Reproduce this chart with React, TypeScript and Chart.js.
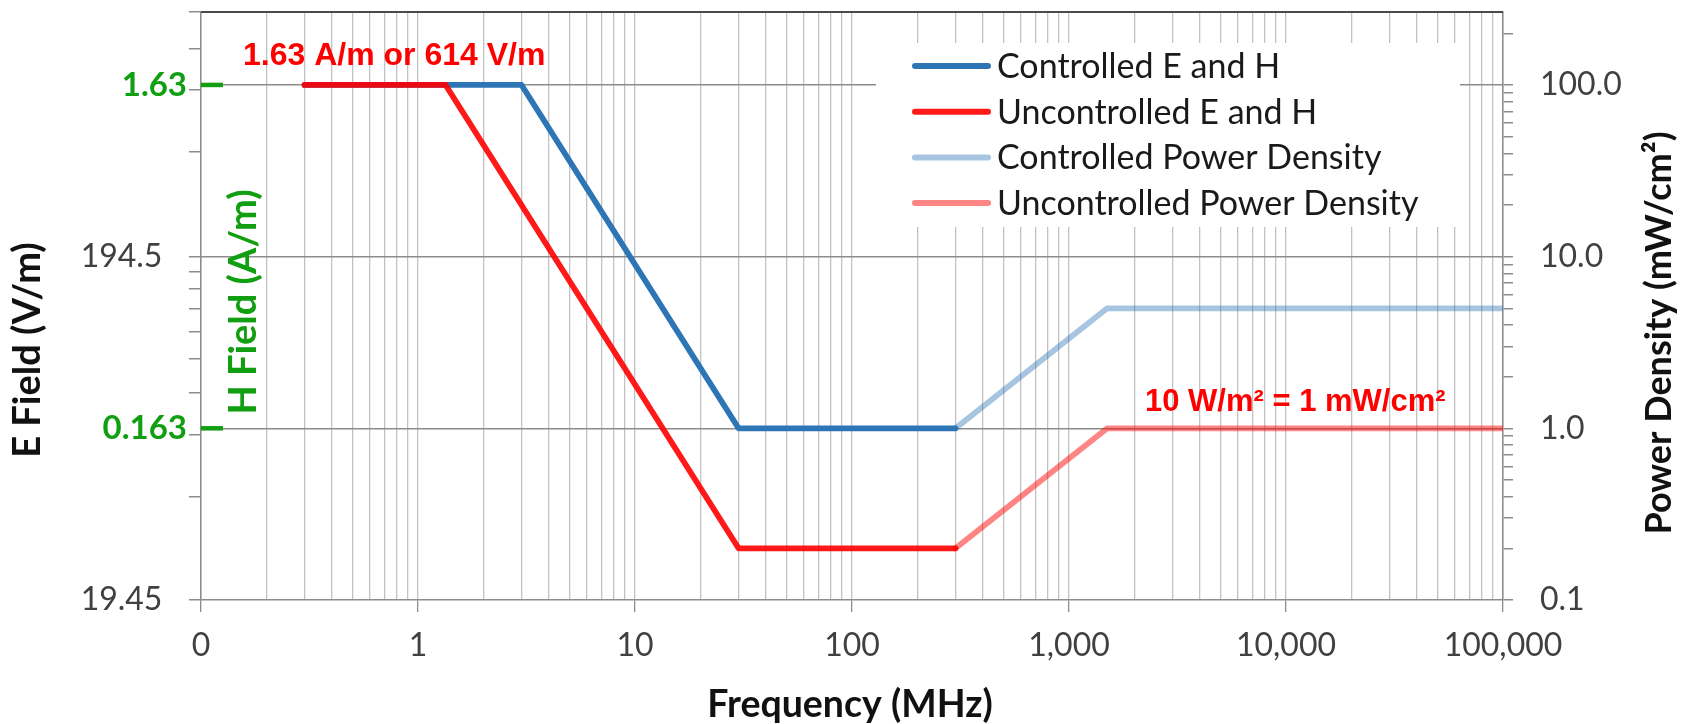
import React, { useEffect, useRef } from 'react';
import { Chart, registerables } from 'chart.js';

Chart.register(...registerables);

// Exposure limit breakpoints: frequency (MHz) and equivalent power density (mW/cm²)
const CONTROLLED_EH_FREQ = [0.3, 3, 30, 300];
const CONTROLLED_EH_PD = [100, 100, 1, 1];
const UNCONTROLLED_EH_FREQ = [0.3, 1.34, 30, 300];
const UNCONTROLLED_EH_PD = [100, 100, 0.2, 0.2];
const CONTROLLED_PD_FREQ = [300, 1500, 100000];
const CONTROLLED_PD = [1, 5, 5];
const UNCONTROLLED_PD_FREQ = [300, 1500, 100000];
const UNCONTROLLED_PD = [0.2, 1, 1];

const SERIES_LABELS = [
  'Controlled E and H',
  'Uncontrolled E and H',
  'Controlled Power Density',
  'Uncontrolled Power Density',
];

// Axis ticks
const FREQ_DECADES = [0.1, 1, 10, 100, 1000, 10000, 100000];
const FREQ_LABELS = ['0', '1', '10', '100', '1,000', '10,000', '100,000'];
const PD_DECADES = [0.1, 1, 10, 100];
const PD_LABELS = ['0.1', '1.0', '10.0', '100.0'];
const E_TICK_VALUES = [0.1, 10];
const E_TICK_LABELS = ['19.45', '194.5'];
const H_TICK_VALUES = [1, 100];
const H_TICK_LABELS = ['0.163', '1.63'];
const LEFT_MINOR_TICKS = [0.1, 0.398, 0.914, 1.61, 2.53, 3.64, 4.95, 6.48, 8.13, 10, 40.6, 93.3, 162, 266];
const PD_MIN = 0.1;
const PD_MAX = 266;
const FREQ_MIN = 0.1;
const FREQ_MAX = 100000;

const BLUE = '#2e75b6';
const RED = 'rgba(255,0,0,0.9)';
const LIGHT_BLUE = 'rgba(46,117,182,0.42)';
const LIGHT_RED = 'rgba(255,0,0,0.48)';
const GREEN = '#119e11';
const AXIS_GRAY = '#8c8c8c';
const GRID_GRAY = '#c2c2c2';
const TEXT_GRAY = '#404040';
const CLEAR = 'rgba(0,0,0,0)';

const pairs = (xs: number[], ys: number[]) => xs.map((x, i) => ({ x, y: ys[i] }));

const isDecade = (v: number) => Math.abs(Math.log10(v) - Math.round(Math.log10(v))) < 1e-9;

const sameValue = (a: number, b: number) => Math.abs(a - b) / Math.abs(b) < 1e-6;

const indexOfValue = (values: number[], v: number) => values.findIndex((x) => sameValue(v, x));

const labelFor = (values: number[], labels: string[], v: number) => {
  const i = indexOfValue(values, v);
  return i >= 0 ? labels[i] : '';
};

// 1..9 × each decade, then the 2..9 multiples of the last decade that fit below max
const logTicks = (decades: number[], max: number) => {
  const out: number[] = [];
  for (let d = 0; d < decades.length - 1; d++) {
    for (let m = 1; m <= 9; m++) out.push(m * decades[d]);
  }
  const last = decades[decades.length - 1];
  out.push(last);
  for (let m = 2; m <= 9; m++) if (m * last <= max) out.push(m * last);
  return out;
};

const noPadding = (s: any) => {
  s.paddingTop = 0;
  s.paddingBottom = 0;
  s.paddingLeft = 0;
  s.paddingRight = 0;
};

// left axis: H-field labels sit next to the axis, E-field labels are set further out
const leftLabel = (v: number) => {
  const h = labelFor(H_TICK_VALUES, H_TICK_LABELS, v);
  if (h) return h;
  const e = labelFor(E_TICK_VALUES, E_TICK_LABELS, v);
  return e ? e + '   ' : '';
};

const isHTick = (v: number) => indexOfValue(H_TICK_VALUES, v) >= 0;

const decorations = {
  id: 'decorations',
  afterDraw(chart: any) {
    const { ctx, chartArea: a, scales } = chart;
    const yL = scales.yL;
    ctx.save();

    // top frame
    ctx.strokeStyle = '#4a4a4a';
    ctx.lineWidth = 2;
    ctx.beginPath();
    ctx.moveTo(a.left, a.top);
    ctx.lineTo(a.right, a.top);
    ctx.stroke();

    // green H-field reference markers
    ctx.strokeStyle = GREEN;
    ctx.lineWidth = 4.5;
    H_TICK_VALUES.forEach((v) => {
      const y = yL.getPixelForValue(v);
      ctx.beginPath();
      ctx.moveTo(a.left, y);
      ctx.lineTo(a.left + 22, y);
      ctx.stroke();
    });

    // legend
    const lx = a.left + 675;
    const ly = a.top + 31;
    ctx.fillStyle = '#ffffff';
    ctx.fillRect(lx, ly, 584, 184);
    ctx.font = '34px Lato';
    ctx.textBaseline = 'middle';
    ctx.textAlign = 'left';
    ctx.lineCap = 'round';
    chart.data.datasets.forEach((ds: any, i: number) => {
      const y = a.top + 54 + i * 45.7;
      ctx.strokeStyle = ds.borderColor;
      ctx.lineWidth = 6;
      ctx.beginPath();
      ctx.moveTo(a.left + 714, y);
      ctx.lineTo(a.left + 787, y);
      ctx.stroke();
      ctx.fillStyle = '#1a1a1a';
      ctx.fillText(ds.label, a.left + 796, y + 1);
    });

    // limit annotations
    ctx.fillStyle = '#ff0000';
    ctx.textBaseline = 'alphabetic';
    ctx.font = 'bold 32px "Liberation Sans"';
    ctx.fillText('1.63 A/m or 614 V/m', a.left + 42, a.top + 53);
    ctx.font = 'bold 31px "Liberation Sans"';
    ctx.fillText('10 W/m\u00B2 = 1 mW/cm\u00B2', a.left + 944, a.top + 399);

    // axis titles
    ctx.textAlign = 'center';
    ctx.textBaseline = 'middle';
    ctx.font = 'bold 37.5px Lato';
    ctx.fillStyle = '#111111';
    ctx.fillText('Frequency (MHz)', (a.left + a.right) / 2 - 2, a.bottom + 105);

    const vertical = (text: string, x: number, y: number, color: string, font: string) => {
      ctx.save();
      ctx.translate(x, y);
      ctx.rotate(-Math.PI / 2);
      ctx.font = font;
      ctx.fillStyle = color;
      ctx.fillText(text, 0, 0);
      ctx.restore();
    };
    vertical('E Field (V/m)', 28, a.top + 338, '#111111', 'bold 38px Lato');
    vertical('H Field (A/m)', a.left + 43, a.top + 290, GREEN, 'bold 38px Lato');
    vertical('Power Density (mW/cm\u00B2)', a.right + 156, a.top + 321, '#111111', 'bold 36px Lato');

    ctx.restore();
  },
};

export default function App() {
  const canvasRef = useRef<HTMLCanvasElement | null>(null);

  useEffect(() => {
    document.body.style.margin = '0';
    const canvas = canvasRef.current;
    if (!canvas) return;

    const chart = new Chart(canvas, {
      type: 'line',
      data: {
        datasets: [
          { label: SERIES_LABELS[0], data: pairs(CONTROLLED_EH_FREQ, CONTROLLED_EH_PD), borderColor: BLUE, order: 3 },
          { label: SERIES_LABELS[1], data: pairs(UNCONTROLLED_EH_FREQ, UNCONTROLLED_EH_PD), borderColor: RED, order: 0 },
          { label: SERIES_LABELS[2], data: pairs(CONTROLLED_PD_FREQ, CONTROLLED_PD), borderColor: LIGHT_BLUE, order: 2 },
          { label: SERIES_LABELS[3], data: pairs(UNCONTROLLED_PD_FREQ, UNCONTROLLED_PD), borderColor: LIGHT_RED, order: 1 },
        ],
      },
      options: {
        responsive: true,
        maintainAspectRatio: false,
        animation: false,
        font: { family: 'Lato' },
        layout: { autoPadding: false, padding: { top: 12, left: 0, right: 0, bottom: 0 } },
        elements: {
          point: { radius: 0 },
          line: { borderWidth: 5.8, borderCapStyle: 'round', borderJoinStyle: 'round', tension: 0, fill: false },
        },
        plugins: { legend: { display: false }, tooltip: { enabled: false } },
        scales: {
          x: {
            type: 'logarithmic',
            position: 'bottom',
            min: FREQ_MIN,
            max: FREQ_MAX,
            afterBuildTicks: (s: any) => {
              s.ticks = logTicks(FREQ_DECADES, FREQ_MAX).map((v) => ({ value: v, major: isDecade(v) }));
            },
            afterFit: (s: any) => {
              s.height = 124;
              noPadding(s);
            },
            grid: {
              color: GRID_GRAY,
              lineWidth: 1.3,
              tickLength: 12,
              tickColor: (c: any) => (isDecade(c.tick.value) ? AXIS_GRAY : CLEAR),
            },
            border: { color: AXIS_GRAY, width: 1.5 },
            ticks: {
              autoSkip: false,
              maxRotation: 0,
              padding: 14,
              color: TEXT_GRAY,
              font: { family: 'Lato', size: 32 },
              callback: (v: any) => labelFor(FREQ_DECADES, FREQ_LABELS, Number(v)),
            },
          },
          y: {
            type: 'logarithmic',
            position: 'right',
            min: PD_MIN,
            max: PD_MAX,
            afterBuildTicks: (s: any) => {
              s.ticks = logTicks(PD_DECADES, PD_MAX).map((v) => ({ value: v, major: isDecade(v) }));
            },
            afterFit: (s: any) => {
              s.width = 189;
              noPadding(s);
            },
            grid: {
              color: (c: any) => (isDecade(c.tick.value) && c.tick.value > PD_MIN ? AXIS_GRAY : CLEAR),
              lineWidth: 1.5,
              tickLength: 10,
              tickColor: AXIS_GRAY,
            },
            border: { color: AXIS_GRAY, width: 1.5 },
            ticks: {
              autoSkip: false,
              padding: 27,
              color: TEXT_GRAY,
              font: { family: 'Lato', size: 32 },
              callback: (v: any) => labelFor(PD_DECADES, PD_LABELS, Number(v)),
            },
          },
          yL: {
            type: 'logarithmic',
            position: 'left',
            min: PD_MIN,
            max: PD_MAX,
            afterBuildTicks: (s: any) => {
              const vals = [...LEFT_MINOR_TICKS, ...H_TICK_VALUES].sort((p, q) => p - q);
              s.ticks = vals.map((v) => ({ value: v }));
            },
            afterFit: (s: any) => {
              s.width = 201;
              noPadding(s);
            },
            grid: {
              drawOnChartArea: false,
              tickLength: 12,
              lineWidth: 1.5,
              tickColor: (c: any) => (isHTick(c.tick.value) ? CLEAR : AXIS_GRAY),
            },
            border: { color: AXIS_GRAY, width: 1.5 },
            ticks: {
              autoSkip: false,
              padding: 2,
              color: (c: any) => (c.tick && isHTick(c.tick.value) ? GREEN : TEXT_GRAY),
              font: (c: any) =>
                c.tick && isHTick(c.tick.value)
                  ? { family: 'Lato', size: 33, weight: 'bold' }
                  : { family: 'Lato', size: 32, weight: 'normal' },
              callback: (v: any) => leftLabel(Number(v)),
            },
          },
        },
      } as any,
      plugins: [decorations],
    });

    return () => chart.destroy();
  }, []);

  return (
    <div style={{ position: 'relative', width: 1692, height: 724 }}>
      <canvas ref={canvasRef} />
    </div>
  );
}
